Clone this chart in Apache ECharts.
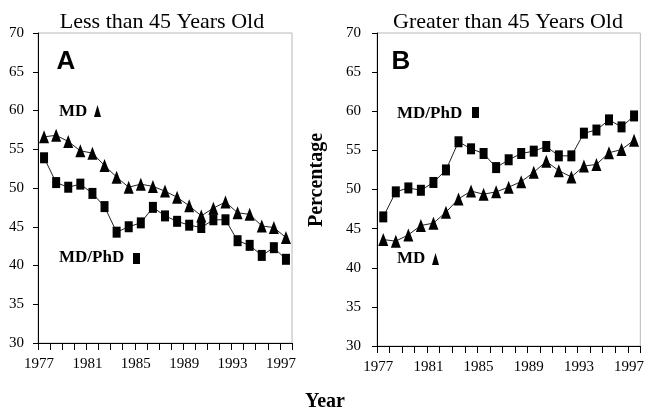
<!DOCTYPE html>
<html>
<head>
<meta charset="utf-8">
<script src="https://cdn.jsdelivr.net/npm/echarts@6/dist/echarts.min.js"></script>
<style>
  html, body { margin: 0; padding: 0; background: #fff; }
  #main { width: 647px; height: 417px; }
</style>
</head>
<body>
<div id="main"></div>
<script>
// years shown on both panels
const years = ['1977','1978','1979','1980','1981','1982','1983','1984','1985','1986','1987',
  '1988','1989','1990','1991','1992','1993','1994','1995','1996','1997'];
const yTicks = [30, 35, 40, 45, 50, 55, 60, 65, 70];

// panel A: less than 45 years old
const youngMD = [56.6, 56.8, 56.0, 54.8, 54.5, 52.9, 51.4, 50.1, 50.5, 50.2, 49.6,
  48.8, 47.7, 46.4, 47.4, 48.2, 46.8, 46.6, 45.1, 44.9, 43.6];
const youngMDPhD = [53.9, 50.7, 50.1, 50.5, 49.3, 47.6, 44.3, 45.0, 45.5, 47.5, 46.4,
  45.7, 45.2, 44.9, 45.9, 45.9, 43.2, 42.6, 41.3, 42.3, 40.8];

// panel B: greater than 45 years old
const oldMD = [43.6, 43.4, 44.2, 45.4, 45.7, 47.1, 48.8, 49.8, 49.4, 49.7, 50.3,
  51.0, 52.2, 53.6, 52.4, 51.6, 53.0, 53.2, 54.7, 55.1, 56.3];
const oldMDPhD = [46.5, 49.7, 50.2, 49.9, 50.9, 52.5, 56.1, 55.2, 54.6, 52.8, 53.8,
  54.6, 54.9, 55.5, 54.3, 54.3, 57.2, 57.6, 58.9, 58.0, 59.4];

const serif = '"Liberation Serif", "Times New Roman", serif';
const chart = echarts.init(document.getElementById('main'));

function xAxisFor(gridIndex) {
  return {
    type: 'category',
    gridIndex: gridIndex,
    data: years,
    boundaryGap: true,
    axisLine: { lineStyle: { color: '#000', width: 1 } },
    axisTick: { show: true, interval: 0, length: 7, lineStyle: { color: '#000', width: 1 } },
    axisLabel: {
      interval: 3, margin: 14, fontFamily: serif, fontSize: 15, color: '#000',
      padding: [0, 10, 0, 0]
    },
    splitLine: { show: false }
  };
}

function yAxisFor(gridIndex, margin) {
  return {
    type: 'value',
    gridIndex: gridIndex,
    min: yTicks[0],
    max: yTicks[yTicks.length - 1],
    interval: 5,
    axisLine: { show: true, lineStyle: { color: '#000', width: 1 } },
    axisTick: { show: true, length: 5, lineStyle: { color: '#000' } },
    axisLabel: { margin: margin, fontFamily: serif, fontSize: 15, color: '#000' },
    splitLine: { show: false }
  };
}

function lineSeries(idx, values, symbol, size) {
  return {
    type: 'line',
    xAxisIndex: idx,
    yAxisIndex: idx,
    data: values,
    symbol: symbol,
    symbolSize: size,
    showAllSymbol: true,
    itemStyle: { color: '#000' },
    lineStyle: { color: '#222', width: 1 },
    animation: false
  };
}

const option = {
  backgroundColor: '#fff',
  animation: false,
  grid: [
    { left: 38, top: 33, width: 254, height: 310, show: true, borderColor: '#b8b8b8', borderWidth: 1 },
    { left: 377, top: 33, width: 266, height: 313, show: true, borderColor: '#b8b8b8', borderWidth: 1 }
  ],
  xAxis: [xAxisFor(0), xAxisFor(1)],
  yAxis: [yAxisFor(0, 14), yAxisFor(1, 16)],
  series: [
    lineSeries(0, youngMD, 'triangle', [10, 13]),
    lineSeries(0, youngMDPhD, 'rect', [8, 11]),
    lineSeries(1, oldMD, 'triangle', [10, 13]),
    lineSeries(1, oldMDPhD, 'rect', [8, 11])
  ],
  graphic: [
    { type: 'text', style: { text: 'Less than 45 Years Old', x: 162, y: 22, textAlign: 'center', textVerticalAlign: 'middle', font: '22px ' + serif, fill: '#000' } },
    { type: 'text', style: { text: 'Greater than 45 Years Old', x: 508, y: 22, textAlign: 'center', textVerticalAlign: 'middle', font: '22px ' + serif, fill: '#000' } },
    { type: 'text', style: { text: 'A', x: 66, y: 62, textAlign: 'center', textVerticalAlign: 'middle', font: 'bold 26px "Liberation Sans", Arial, sans-serif', fill: '#000' } },
    { type: 'text', style: { text: 'B', x: 401, y: 62, textAlign: 'center', textVerticalAlign: 'middle', font: 'bold 26px "Liberation Sans", Arial, sans-serif', fill: '#000' } },

    { type: 'text', style: { text: 'MD', x: 59, y: 112, textVerticalAlign: 'middle', font: 'bold 17px ' + serif, fill: '#000' } },
    { type: 'polygon', shape: { points: [[97.5, 105], [101, 117], [94, 117]] }, style: { fill: '#000' } },
    { type: 'text', style: { text: 'MD/PhD', x: 59, y: 258, textVerticalAlign: 'middle', font: 'bold 17px ' + serif, fill: '#000' } },
    { type: 'rect', shape: { x: 133, y: 253, width: 7, height: 11 }, style: { fill: '#000' } },

    { type: 'text', style: { text: 'MD/PhD', x: 397, y: 114, textVerticalAlign: 'middle', font: 'bold 17px ' + serif, fill: '#000' } },
    { type: 'rect', shape: { x: 472, y: 107, width: 7, height: 11 }, style: { fill: '#000' } },
    { type: 'text', style: { text: 'MD', x: 397, y: 259, textVerticalAlign: 'middle', font: 'bold 17px ' + serif, fill: '#000' } },
    { type: 'polygon', shape: { points: [[435.5, 253], [439, 265], [432, 265]] }, style: { fill: '#000' } },

    { type: 'text', rotation: Math.PI / 2, x: 317, y: 180, style: { text: 'Percentage', x: 0, y: 0, textAlign: 'center', textVerticalAlign: 'middle', font: 'bold 20px ' + serif, fill: '#000' } },
    { type: 'text', style: { text: 'Year', x: 325, y: 402, textAlign: 'center', textVerticalAlign: 'middle', font: 'bold 20px ' + serif, fill: '#000' } }
  ]
};

chart.setOption(option);
</script>
</body>
</html>
